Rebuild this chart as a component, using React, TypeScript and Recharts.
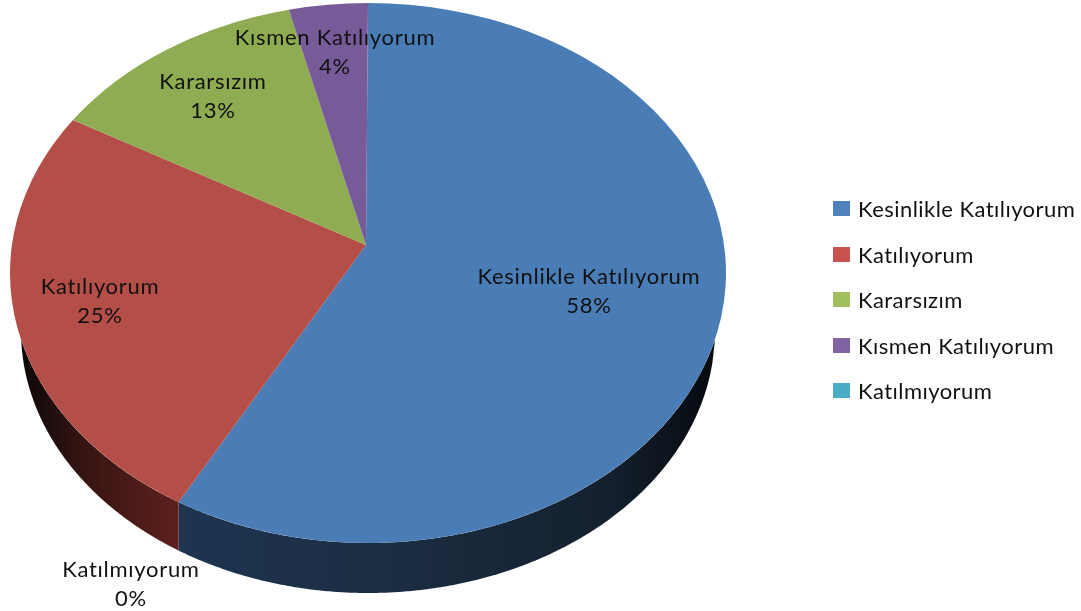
import React from 'react';
import { PieChart, Pie, Legend } from 'recharts';

const names = ['Kesinlikle Katılıyorum', 'Katılıyorum', 'Kararsızım', 'Kısmen Katılıyorum', 'Katılmıyorum'];
const values = [58, 25, 13, 4, 0];
const sliceColors = ['#4a7cb6', '#b44e49', '#8fac52', '#775b99', '#46a0b8'];
const legendColors = ['#4f81bd', '#c9524f', '#a2bf5e', '#8064a2', '#4bacc6'];
const wallGradients = ['wallBlue', 'wallRed', 'wallGreen', 'wallPurple', 'wallTeal'];

const data = names.map((name, i) => ({ name, value: values[i], fill: sliceColors[i] }));

// label centres, [x, y of first line]
const labelSpots = [[589, 277], [100, 287], [213, 82], [335, 38], [131, 570]];

const FONT = 'Lato, "Open Sans", sans-serif';
const SQUASH = 270 / 358; // ellipse height / width of the top face
const APEX = { dx: -2, dy: -28 }; // slices meet above the ellipse centre (perspective)
const WARP = (6.5 * Math.PI) / 180; // perspective pulls the slice edges round the rim
const BOTTOM = { rx: 347, ry: 262, dy: 58 }; // lower rim, relative to the top face centre

const warp = (t: number) => t - WARP * Math.sin(t);

function SliceShape(props: any) {
  const { cx, cy, outerRadius, startAngle, endAngle, fill, index } = props;
  if (Math.abs(endAngle - startAngle) < 0.01) return <g />;

  const rx = outerRadius;
  const ry = outerRadius * SQUASH;
  const t0 = warp(((90 - startAngle) * Math.PI) / 180);
  const t1 = warp(((90 - endAngle) * Math.PI) / 180);
  const pt = (t: number) => [cx + rx * Math.sin(t), cy - ry * Math.cos(t)];

  const [ax, ay] = pt(t0);
  const [bx, by] = pt(t1);
  const large = t1 - t0 > Math.PI ? 1 : 0;
  const top = `M${cx + APEX.dx},${cy + APEX.dy} L${ax},${ay} A${rx},${ry} 0 ${large} 1 ${bx},${by} Z`;

  // side wall: only the part of the slice in the lower half, between both rims
  const lo = Math.max(t0, Math.PI / 2);
  const hi = Math.min(t1, (3 * Math.PI) / 2);
  let wall = '';
  if (hi > lo) {
    const xStart = cx + rx * Math.sin(lo);
    const xEnd = cx + rx * Math.sin(hi);
    const upper: string[] = [];
    const lower: string[] = [];
    for (let i = 0; i <= 240; i++) {
      const x = xStart + ((xEnd - xStart) * i) / 240;
      const d = x - cx;
      if (Math.abs(d) >= BOTTOM.rx) continue;
      const yt = cy + ry * Math.sqrt(1 - (d / rx) ** 2);
      const yb = cy + BOTTOM.dy + BOTTOM.ry * Math.sqrt(1 - (d / BOTTOM.rx) ** 2);
      if (yb <= yt) continue;
      upper.push(`${x},${yt}`);
      lower.unshift(`${x},${yb}`);
    }
    if (upper.length) wall = `M${upper.join(' L')} L${lower.join(' L')} Z`;
  }

  return (
    <g>
      {wall && <path d={wall} fill={`url(#${wallGradients[index]})`} />}
      <path d={top} fill={fill} />
    </g>
  );
}

function SliceLabel(props: any) {
  const { index, name, percent } = props;
  const [x, y] = labelSpots[index];
  return (
    <text x={x} textAnchor="middle" fontFamily={FONT} fontSize={22} letterSpacing={0.7} fill="#111">
      <tspan x={x} y={y + 7}>{name}</tspan>
      <tspan x={x} y={y + 36}>{`${Math.round(percent * 100)}%`}</tspan>
    </text>
  );
}

function LegendList({ payload }: any) {
  return (
    <div style={{ fontFamily: FONT, fontSize: 22, letterSpacing: 0.45, color: '#111' }}>
      {(payload || []).map((entry: any, i: number) => (
        <div key={entry.value} style={{ height: 45.5, display: 'flex', alignItems: 'center', whiteSpace: 'nowrap' }}>
          <span style={{ width: 17, height: 15, background: legendColors[i], marginRight: 8, flex: 'none' }} />
          {entry.value}
        </div>
      ))}
    </div>
  );
}

export default function App() {
  return (
    <div style={{ position: 'absolute', left: 0, top: 0, filter: 'blur(0.4px)' }}>
      <PieChart width={1081} height={611} margin={{ top: 0, right: 0, bottom: 0, left: 0 }}>
        <defs>
          <linearGradient id="wallBlue" gradientUnits="userSpaceOnUse" x1="175" y1="0" x2="722" y2="0">
            <stop offset="0%" stopColor="#1e3450" />
            <stop offset="40%" stopColor="#1b2d42" />
            <stop offset="80%" stopColor="#14202e" />
            <stop offset="100%" stopColor="#05080c" />
          </linearGradient>
          <linearGradient id="wallRed" gradientUnits="userSpaceOnUse" x1="20" y1="0" x2="176" y2="0">
            <stop offset="0%" stopColor="#0c0808" />
            <stop offset="45%" stopColor="#3a1513" />
            <stop offset="100%" stopColor="#5c201c" />
          </linearGradient>
          <linearGradient id="wallGreen"><stop stopColor="#4a5a28" /></linearGradient>
          <linearGradient id="wallPurple"><stop stopColor="#3a2c4a" /></linearGradient>
          <linearGradient id="wallTeal"><stop stopColor="#235460" /></linearGradient>
        </defs>
        <Pie
          data={data}
          dataKey="value"
          nameKey="name"
          cx={368}
          cy={273}
          outerRadius={358}
          startAngle={90}
          endAngle={-270}
          stroke="none"
          shape={SliceShape}
          label={SliceLabel}
          labelLine={false}
          isAnimationActive={false}
        />
        <Legend
          layout="vertical"
          itemSorter={null}
          content={<LegendList />}
          wrapperStyle={{ position: 'absolute', left: 833, top: 186, width: 248, bottom: 'auto' }}
        />
      </PieChart>
    </div>
  );
}
